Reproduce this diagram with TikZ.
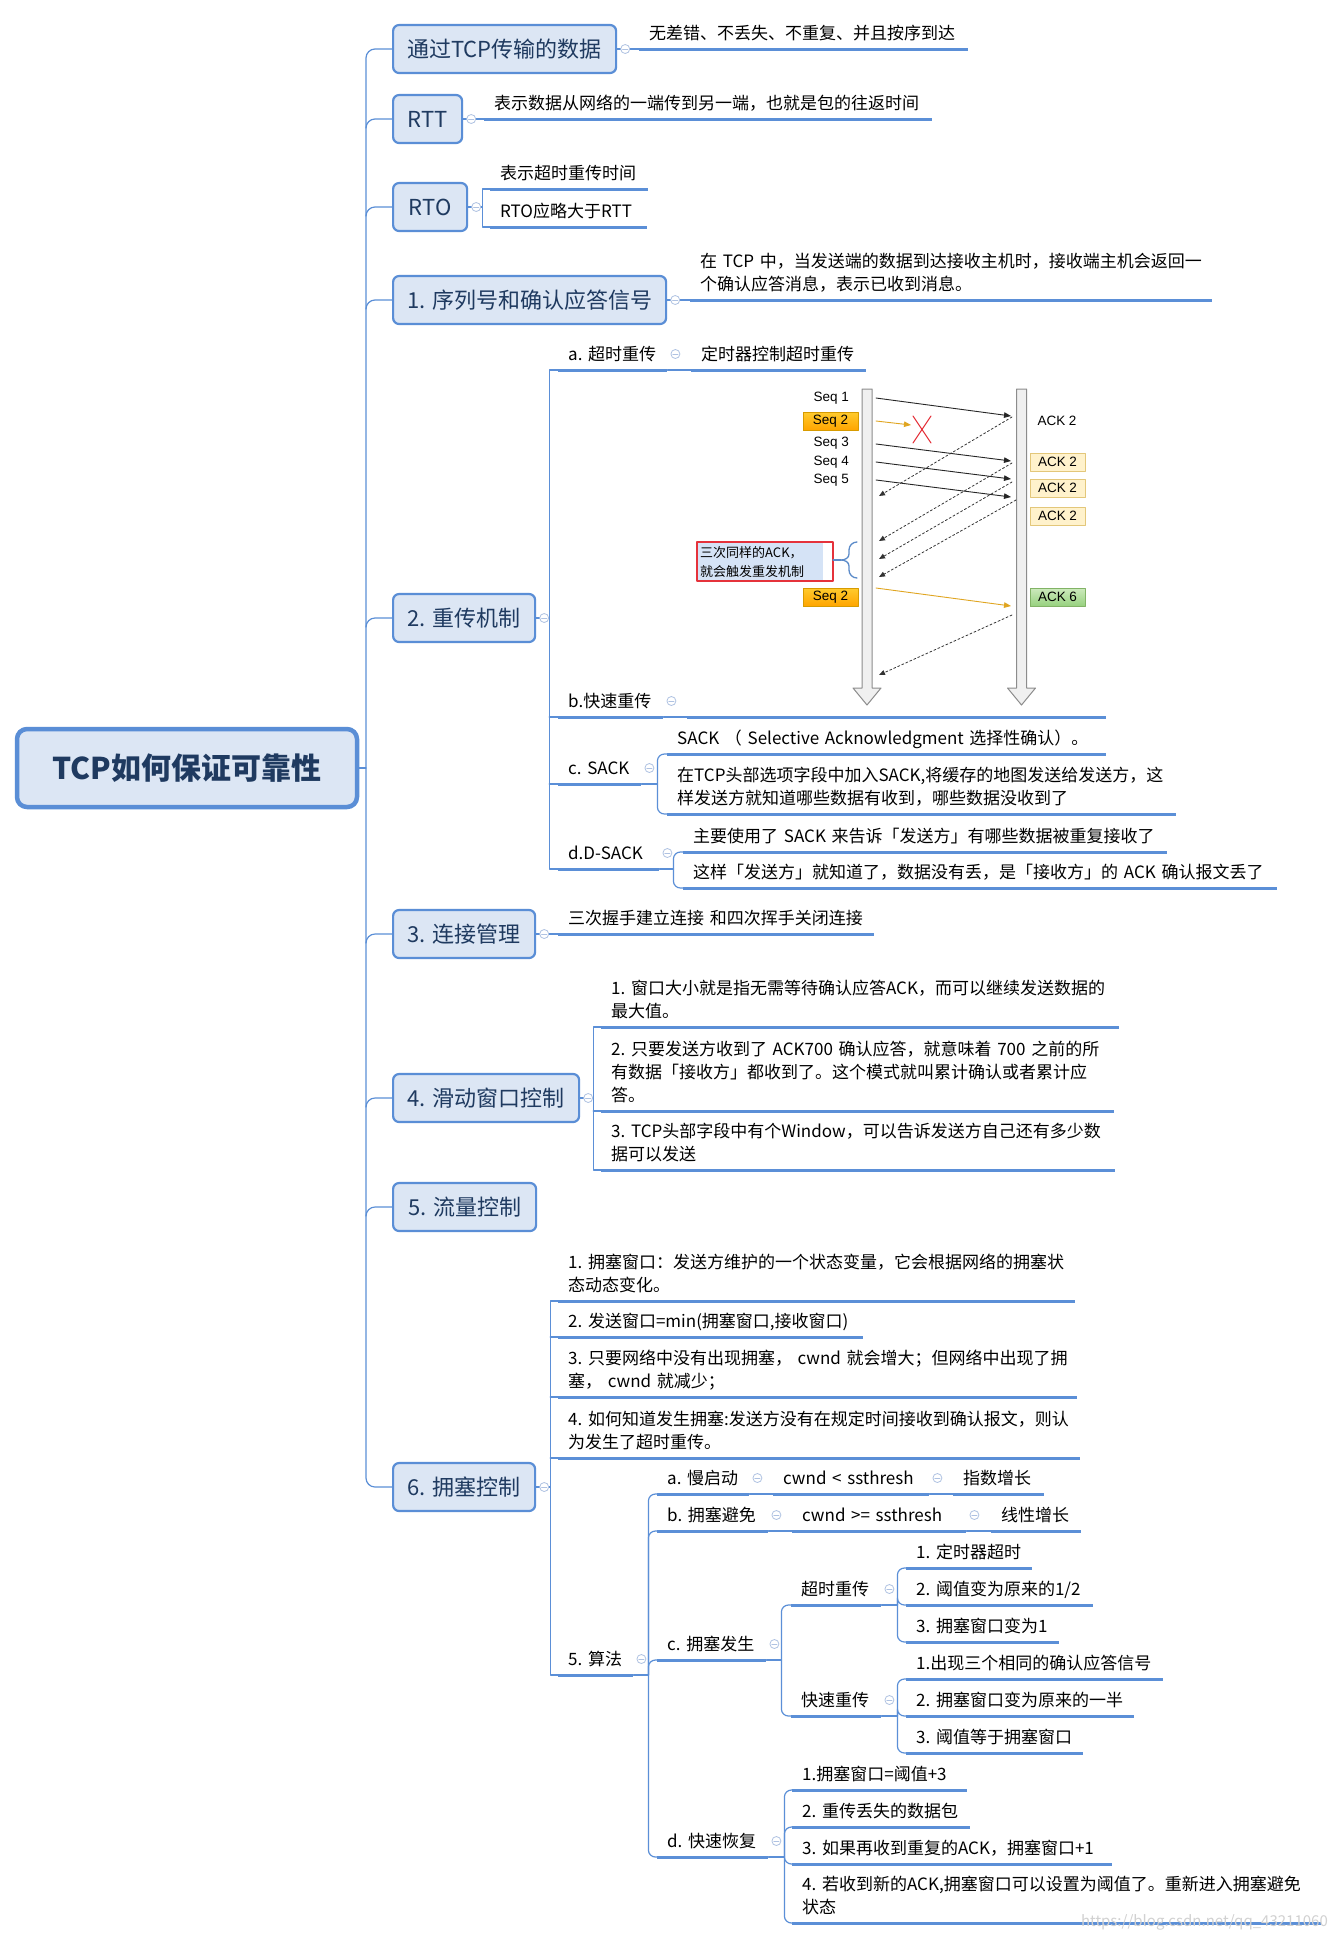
\documentclass[tikz,border=0pt]{standalone}
\usepackage{fontspec}
\setmainfont{Noto Sans CJK SC}
\newfontfamily\arialfont{Liberation Sans}
\usetikzlibrary{arrows.meta}

\definecolor{boxfill}{HTML}{DCE6F4}
\definecolor{boxline}{HTML}{5A8ED6}
\definecolor{boxtext}{HTML}{1F3A60}
\definecolor{ulinec}{HTML}{5B8FD7}
\definecolor{linkc}{HTML}{5B8FD7}
\definecolor{foldc}{HTML}{AFC2E2}
\definecolor{seqtop}{HTML}{FFCB2E}
\definecolor{seqbot}{HTML}{FFA500}
\definecolor{seqline}{HTML}{D79B00}
\definecolor{ackfill}{HTML}{FFF2CC}
\definecolor{ackline}{HTML}{E3C77A}
\definecolor{oktop}{HTML}{CDEABD}
\definecolor{okbot}{HTML}{97D17F}
\definecolor{okline}{HTML}{82B366}
\definecolor{lossc}{HTML}{E0A520}
\definecolor{notered}{HTML}{E5323B}
\definecolor{notefill}{HTML}{D5E3F6}
\definecolor{bracec}{HTML}{5B8BC9}

\newcommand\rootfont{\fontsize{30pt}{36pt}\selectfont\bfseries}
\newcommand\topicfont{\fontsize{22pt}{26pt}\selectfont}
\newcommand\leaffont{\fontsize{17pt}{23pt}\selectfont}
\newcommand\seqfont{\arialfont\fontsize{13.5pt}{16pt}\selectfont}
\newcommand\notefont{\fontsize{13pt}{19pt}\selectfont}

\begin{document}
\begin{tikzpicture}[x=1pt,y=-1pt,line cap=round,line join=round,
  every node/.style={inner sep=0pt},
  link/.style={draw=linkc,line width=1.2pt},
  uline/.style={draw=ulinec,line width=3pt,line cap=butt},
  rootbox/.style={draw=boxline,fill=boxfill,line width=4.5pt,rounded corners=10pt,
    minimum width=340pt,minimum height=78pt,font=\rootfont,text=boxtext},
  topic/.style={anchor=west,draw=boxline,fill=boxfill,line width=2.2pt,rounded corners=6pt,
    minimum height=48pt,minimum width=#1,font=\topicfont,text=boxtext},
  leaf/.style={anchor=south west,inner xsep=10pt,inner ysep=2.5pt,text width=#1,align=left,
    font=\leaffont,execute at begin node=\strut,execute at end node=\strut,
    append after command={(\tikzlastnode.south west) edge[uline] (\tikzlastnode.south east)}},
  fold/.style={circle,draw=foldc,fill=white,line width=0.8pt,minimum size=9pt,
    path picture={\draw[foldc,line width=0.8pt] ([xshift=-2.6pt]path picture bounding box.center)
      -- ([xshift=2.6pt]path picture bounding box.center);}},
  life/.style={fill=black!6,draw=black!45,line width=1pt},
  seqlab/.style={anchor=east,font=\seqfont},
  seqbox/.style={minimum width=55pt,minimum height=18pt,top color=seqtop,bottom color=seqbot,
    draw=seqline,line width=0.8pt,font=\seqfont},
  ackbox/.style={minimum width=55pt,minimum height=18pt,fill=ackfill,draw=ackline,
    line width=0.8pt,font=\seqfont},
  okbox/.style={minimum width=55pt,minimum height=18pt,top color=oktop,bottom color=okbot,
    draw=okline,line width=0.8pt,font=\seqfont},
  msg/.style={draw=black!85,line width=0.9pt,-{Triangle[length=7pt,width=5.5pt]}},
  ackmsg/.style={draw=black!80,line width=0.8pt,dash pattern=on 2.2pt off 2.2pt,
    -{Triangle[length=6pt,width=5pt]}}]
  \useasboundingbox (0,0) rectangle (1332,1941);
  \fill[white] (0,0) rectangle (1332,1941);

  % 中心与一级主题
  \node[rootbox] (root) at (187,768) {TCP如何保证可靠性};
  \node[topic=223pt] (t1) at (392,49) {通过TCP传输的数据};
  \node[topic=69pt] (trtt) at (392,119) {RTT};
  \node[topic=74pt] (trto) at (392,207) {RTO};
  \node[topic=273pt] (tseq) at (392,300) {1. 序列号和确认应答信号};
  \node[topic=142pt] (tre) at (392,618) {2. 重传机制};
  \node[topic=142pt] (tconn) at (392,934) {3. 连接管理};
  \node[topic=186pt] (twin) at (392,1098) {4. 滑动窗口控制};
  \node[topic=143pt] (tflow) at (392,1207) {5. 流量控制};
  \node[topic=142pt] (tcong) at (392,1487) {6. 拥塞控制};

  % 前四个主题的说明
  \node[leaf=309pt] (l1) at (639,49) {无差错、不丢失、不重复、并且按序到达};
  \node[leaf=428pt] (lrtt) at (484,119) {表示数据从网络的一端传到另一端，也就是包的往返时间};
  \node[leaf=138pt] (lrto1) at (490,189) {表示超时重传时间};
  \node[leaf=137pt] (lrto2) at (490,227) {RTO应略大于RTT};
  \node[leaf=502pt] (lseq) at (690,300) {在~TCP~中，当发送端的数据到达接收主机时，接收端主机会返回一\\个确认应答消息，表示已收到消息。};

  % 重传机制
  \node[leaf=89pt] (la) at (558,370) {a.~超时重传};
  \node[leaf=155pt] (la1) at (691,370) {定时器控制超时重传};
  \node[leaf=85pt] (lb) at (558,717) {b.快速重传};
  \node[leaf=399pt] (lb1) at (687,717) {};
  \node[leaf=63pt] (lc) at (558,784) {c.~SACK};
  \node[leaf=419pt] (lc1) at (667,754) {SACK~（~Selective~Acknowledgment~选择性确认）。};
  \node[leaf=489pt] (lc2) at (667,814) {在TCP头部选项字段中加入SACK,将缓存的地图发送给发送方，这\\样发送方就知道哪些数据有收到，哪些数据没收到了};
  \node[leaf=81pt] (ld) at (558,869) {d.D-SACK};
  \node[leaf=464pt] (ld1) at (683,852) {主要使用了~SACK~来告诉「发送方」有哪些数据被重复接收了};
  \node[leaf=574pt] (ld2) at (683,888) {这样「发送方」就知道了，数据没有丢，是「接收方」的~ACK~确认报文丢了};

  % 连接管理、滑动窗口
  \node[leaf=296pt] (lconn) at (558,934) {三次握手建立连接~和四次挥手关闭连接};
  \node[leaf=498pt] (lw1) at (601,1027) {1.~窗口大小就是指无需等待确认应答ACK，而可以继续发送数据的\\最大值。};
  \node[leaf=493pt] (lw2) at (601,1111) {2.~只要发送方收到了~ACK700~确认应答，就意味着~700~之前的所\\有数据「接收方」都收到了。这个模式就叫累计确认或者累计应\\答。};
  \node[leaf=494pt] (lw3) at (601,1170) {3.~TCP头部字段中有个Window，可以告诉发送方自己还有多少数\\据可以发送};

  % 拥塞控制
  \node[leaf=497pt] (lg1) at (558,1301) {1.~拥塞窗口：发送方维护的一个状态变量，它会根据网络的拥塞状\\态动态变化。};
  \node[leaf=285pt] (lg2) at (558,1337) {2.~发送窗口=min(拥塞窗口,接收窗口)};
  \node[leaf=499pt] (lg3) at (558,1397) {3.~只要网络中没有出现拥塞，~cwnd~就会增大；但网络中出现了拥\\塞，~cwnd~就减少；};
  \node[leaf=502pt] (lg4) at (558,1458) {4.~如何知道发生拥塞:发送方没有在规定时间接收到确认报文，则认\\为发生了超时重传。};
  \node[leaf=55pt] (lg5) at (558,1675) {5.~算法};
  \node[leaf=72pt] (lsa) at (657,1494) {a.~慢启动};
  \node[leaf=136pt] (lsa1) at (773,1494) {cwnd~<~ssthresh};
  \node[leaf=71pt] (lsa2) at (953,1494) {指数增长};
  \node[leaf=91pt] (lsb) at (657,1531) {b.~拥塞避免};
  \node[leaf=154pt] (lsb1) at (792,1531) {cwnd~>=~ssthresh};
  \node[leaf=70pt] (lsb2) at (991,1531) {线性增长};
  \node[leaf=89pt] (lsc) at (657,1660) {c.~拥塞发生};
  \node[leaf=70pt] (lto) at (791,1605) {超时重传};
  \node[leaf=106pt] (lto1) at (906,1568) {1.~定时器超时};
  \node[leaf=167pt] (lto2) at (906,1605) {2.~阈值变为原来的1/2};
  \node[leaf=133pt] (lto3) at (906,1642) {3.~拥塞窗口变为1};
  \node[leaf=70pt] (lfr) at (791,1716) {快速重传};
  \node[leaf=237pt] (lfr1) at (906,1679) {1.出现三个相同的确认应答信号};
  \node[leaf=208pt] (lfr2) at (906,1716) {2.~拥塞窗口变为原来的一半};
  \node[leaf=157pt] (lfr3) at (906,1753) {3.~阈值等于拥塞窗口};
  \node[leaf=91pt] (lsd) at (657,1857) {d.~快速恢复};
  \node[leaf=155pt] (lrc1) at (792,1790) {1.拥塞窗口=阈值+3};
  \node[leaf=158pt] (lrc2) at (792,1827) {2.~重传丢失的数据包};
  \node[leaf=300pt] (lrc3) at (792,1864) {3.~如果再收到重复的ACK，拥塞窗口+1};
  \node[leaf=509pt] (lrc4) at (792,1923) {4.~若收到新的ACK,拥塞窗口可以设置为阈值了。重新进入拥塞避免\\状态};

  % 主干
  \coordinate (spine) at (366,768);
  \draw[link] (root.east) -- (spine);
  \draw[link,rounded corners=9pt] (t1.west) -| (spine) |- (tcong.west);
  \foreach \n in {trtt,trto,tseq,tre,tconn,twin,tflow} {
    \coordinate (j\n) at (spine |- \n.west);
    \draw[link] ([yshift=-9pt]j\n) to[out=90,in=180] ([xshift=9pt]j\n) -- (\n.west);
  }

  % 直线连接
  \foreach \a/\b in {t1/l1,trtt/lrtt,tseq/lseq,tconn/lconn}
    \draw[link] (\a.east) -- (\b.south west);
  \foreach \a/\b in {la/la1,lb/lb1,lsa/lsa1,lsa1/lsa2,lsb/lsb1,lsb1/lsb2}
    \draw[link] (\a.south east) -- (\b.south west);

  % 方括号分支
  \draw[link] (trto.east) -- ++(14,0) coordinate (kto);
  \draw[link] (lrto1.south west) -| (kto) |- (lrto2.south west);
  \draw[link] (tre.east) -- ++(13,0) coordinate (kre);
  \draw[link] (la.south west) -| (kre) |- (ld.south west);
  \foreach \n in {lb,lc} \draw[link] (kre |- \n.south west) -- (\n.south west);
  \draw[link] (twin.east) -- ++(13,0) coordinate (kwin);
  \draw[link] (lw1.south west) -| (kwin) |- (lw3.south west);
  \draw[link] (kwin |- lw2.south west) -- (lw2.south west);
  \draw[link] (tcong.east) -- ++(14,0) coordinate (kcong);
  \draw[link] (lg1.south west) -| (kcong) |- (lg5.south west);
  \foreach \n in {lg2,lg3,lg4} \draw[link] (kcong |- \n.south west) -- (\n.south west);

  % 圆括号分支
  \foreach \p/\d/\kids in {lc/16/{lc1,lc2},ld/14/{ld1,ld2},lg5/15/{lsa,lsb,lsc,lsd},
      lsc/15/{lto,lfr},lto/16/{lto1,lto2,lto3},lfr/16/{lfr1,lfr2,lfr3},lsd/16/{lrc1,lrc2,lrc3,lrc4}} {
    \draw[link] (\p.south east) -- ++(\d,0) coordinate (k\p);
    \foreach \c in \kids \draw[link,rounded corners=7pt] (k\p) |- (\c.south west);
  }

  % 折叠标记
  \foreach \n in {t1,trtt,trto,tseq,tre,tconn,twin,tcong}
    \node[fold] (f\n) at ([xshift=8pt]\n.east) {};
  \foreach \n in {la,lb,lc,ld,lg5,lsa,lsa1,lsb,lsb1,lsc,lto,lfr,lsd}
    \node[fold] (f\n) at ([shift={(8,-16)}]\n.south east) {};

  % 时序图
  \foreach \x in {867,1021.5}
    \filldraw[life] (\x-5,389) -- (\x+5,389) -- (\x+5,688) -- (\x+14,688) -- (\x,705)
      -- (\x-14,688) -- (\x-5,688) -- cycle;
  \node[seqlab] (s1) at (849,398) {Seq 1};
  \node[seqbox] (s2) at (830.5,421) {Seq 2};
  \node[seqlab] (s3) at (849,443) {Seq 3};
  \node[seqlab] (s4) at (849,462) {Seq 4};
  \node[seqlab] (s5) at (849,480) {Seq 5};
  \node[seqbox] (s6) at (830.5,597) {Seq 2};
  \node[font=\seqfont] (k0) at (1057,421) {ACK 2};
  \foreach \y/\n in {462/1,488/2,516/3}
    \node[ackbox] (k\n) at (1057.5,\y) {ACK 2};
  \node[okbox] (k6) at (1057.5,597) {ACK 6};
  \foreach \a/\b/\c/\d in {876/398/1011/416,876/444/1011/461,876/462/1011/479,876/480/1011/497}
    \draw[msg] (\a,\b) -- (\c,\d);
  \draw[msg,draw=lossc] (876,421) -- (911,425);
  \draw[msg,draw=lossc] (876,588) -- (1011,606);
  \foreach \a/\b/\c/\d in {1012/417/879/496,1012/463/879/541,1012/482/879/559,1016/500/879/577,1012/615/879/675}
    \draw[ackmsg] (\a,\b) -- (\c,\d);
  \draw[notered,line width=1pt] (913,416) -- (931,443) (931,416) -- (913,443);
  \fill[notefill] (697,542) rectangle (823,581);
  \draw[notered,line width=1.3pt] (697,542) rectangle (833,581);
  \node[anchor=west,align=left,font=\notefont] (note) at (700,562) {三次同样的ACK，\\就会触发重发机制};
  \draw[bracec,line width=1.3pt] (833,560) -- (841,560);
  \draw[bracec,line width=1.3pt] (857,542) to[out=180,in=90] (849,550) -- (849,554)
    to[out=-90,in=0] (841,560) to[out=0,in=90] (849,566) -- (849,570) to[out=-90,in=180] (857,578);

  \node[anchor=east,font=\fontsize{15pt}{18pt}\selectfont,text=black!18] (wm) at (1328,1922) {https://blog.csdn.net/qq\_43211060};
\end{tikzpicture}
\end{document}
